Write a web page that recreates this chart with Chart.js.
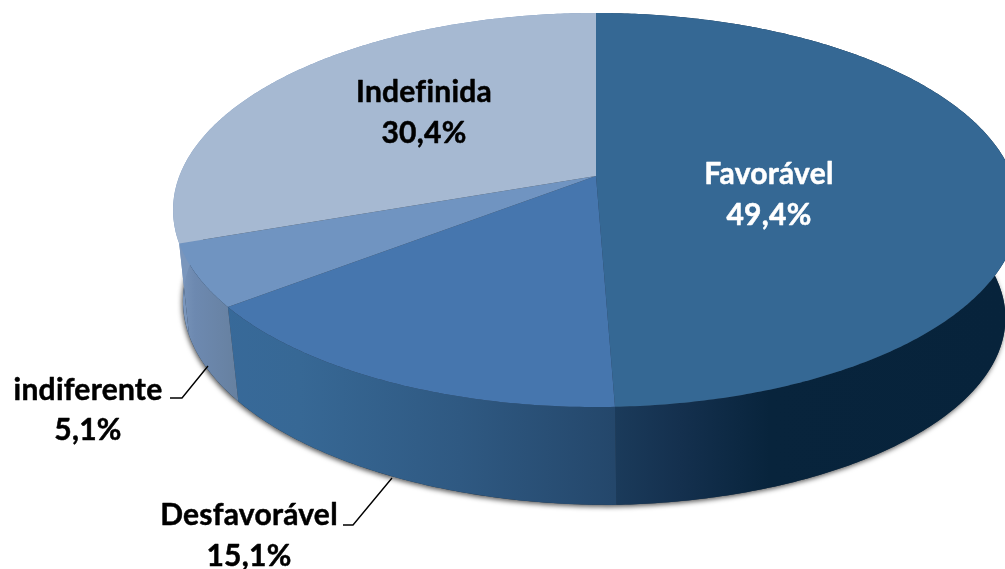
<!DOCTYPE html>
<html><head><meta charset="utf-8">
<style>html,body{margin:0;padding:0;background:#fff;overflow:hidden}#w{width:1005px;height:569px;position:relative}</style>
<script src="https://cdn.jsdelivr.net/npm/chart.js@4"></script>
</head><body><div id="w"><canvas id="c" width="1005" height="569"></canvas></div>
<script>
const categories = ['Favorável', 'Desfavorável', 'indiferente', 'Indefinida'];
const shares = [49.4, 15.1, 5.1, 30.4];
const topColors = ['#356894', '#4676ae', '#7094c1', '#a6b9d2'];
const wallStops = [
  [[614,'#1b3b5b'],[680,'#14304e'],[770,'#08243c'],[1005,'#07233b']],
  [[190,'#386a9b'],[300,'#376895'],[460,'#2f5982'],[614,'#24476b']],
  [[178,'#7a96bc'],[195,'#6d89b0'],[240,'#66809f']],
  [[170,'#7a96bc'],[600,'#7a96bc']]
];
const labelColors = ['#ffffff', '#000000', '#000000', '#000000'];
const labelPlaces = [[769,184,225],[249,525,566],[88,400,440],[424,102,143]];
const leaders = [null, [[343,525],[353,525],[392,478]], [[170,398],[182,398],[208,366]], null];

// perspective of the disc: top face and bottom rim, in units of the library's radius
const P = 0.1726;
const TOP = {dx:0, dy:0, a:2.367, b:1.086};
const BOT_RIGHT = {dx:2, dy:109.7, a:2.28, b:1.031};
const BOT_LEFT = {dx:14, dy:89.8, a:2.390, b:1.124};
function project(el, f, ang){
  const X = Math.cos(ang), Y = Math.sin(ang), d = 1 - P*Y, R = el.outerRadius;
  if(f === null) f = X < 0 ? BOT_LEFT : BOT_RIGHT;
  return [el.x + f.dx + f.a*R*X/d, el.y + f.dy + f.b*R*Y/d];
}
function rim(ctx, el, f, from, to, first){
  const n = Math.max(2, Math.ceil(Math.abs(to-from)/0.01));
  for(let i=0;i<=n;i++){
    const p = project(el, f, from + (to-from)*i/n);
    if(i===0 && first) ctx.moveTo(p[0],p[1]); else ctx.lineTo(p[0],p[1]);
  }
}
const ArcEl = Chart.registry.getElement('arc');
ArcEl.prototype.draw = function(ctx){
  ctx.save();
  ctx.beginPath();
  ctx.moveTo(this.x,this.y);
  rim(ctx, this, TOP, this.startAngle, this.endAngle, false);
  ctx.closePath();
  ctx.fillStyle = this.options.backgroundColor;
  ctx.fill();
  ctx.restore();
};
const depthPlugin = {
  id:'depth',
  beforeDatasetsDraw(chart){
    const ctx = chart.ctx, arcs = chart.getDatasetMeta(0).data;
    ctx.save();
    ctx.shadowColor='rgba(0,0,0,0.65)'; ctx.shadowBlur=5; ctx.shadowOffsetX=-1; ctx.shadowOffsetY=2;
    ctx.fillStyle='#234';
    ctx.beginPath();
    rim(ctx, arcs[0], null, -Math.PI/2, 1.5*Math.PI, true);
    ctx.closePath(); ctx.fill();
    ctx.restore();
    arcs.forEach((el,i)=>{
      const g = ctx.createLinearGradient(0,0,1005,0);
      wallStops[i].forEach(s=>g.addColorStop(s[0]/1005,s[1]));
      ctx.beginPath();
      rim(ctx, el, TOP, el.startAngle, el.endAngle, true);
      rim(ctx, el, null, el.endAngle, el.startAngle, false);
      ctx.closePath();
      ctx.fillStyle=g; ctx.fill();
    });
  },
  afterDatasetsDraw(chart){
    const ctx = chart.ctx;
    ctx.save();
    ctx.textAlign='center'; ctx.textBaseline='alphabetic';
    ctx.font='bold 30px Lato, sans-serif';
    ctx.letterSpacing='0.25px';
    ctx.lineWidth=0.5; ctx.lineJoin='round';
    categories.forEach((name,i)=>{
      const p = labelPlaces[i];
      ctx.fillStyle = labelColors[i]; ctx.strokeStyle = labelColors[i];
      const pct = shares[i].toFixed(1).replace('.',',')+'%';
      ctx.fillText(name,p[0],p[1]); ctx.strokeText(name,p[0],p[1]);
      ctx.fillText(pct,p[0],p[2]); ctx.strokeText(pct,p[0],p[2]);
      if(leaders[i]){
        ctx.beginPath();
        leaders[i].forEach((q,k)=>k?ctx.lineTo(q[0],q[1]):ctx.moveTo(q[0],q[1]));
        ctx.strokeStyle='#000'; ctx.lineWidth=1.4; ctx.stroke();
        ctx.lineWidth=0.5;
      }
    });
    ctx.restore();
  }
};
new Chart(document.getElementById('c'),{
  type:'pie',
  data:{labels:categories,datasets:[{data:shares,backgroundColor:topColors,borderWidth:0}]},
  options:{
    responsive:false,animation:false,
    layout:{padding:{left:187,right:0,top:0,bottom:217}},
    plugins:{legend:{display:false},tooltip:{enabled:false}}
  },
  plugins:[depthPlugin]
});
</script></body></html>
